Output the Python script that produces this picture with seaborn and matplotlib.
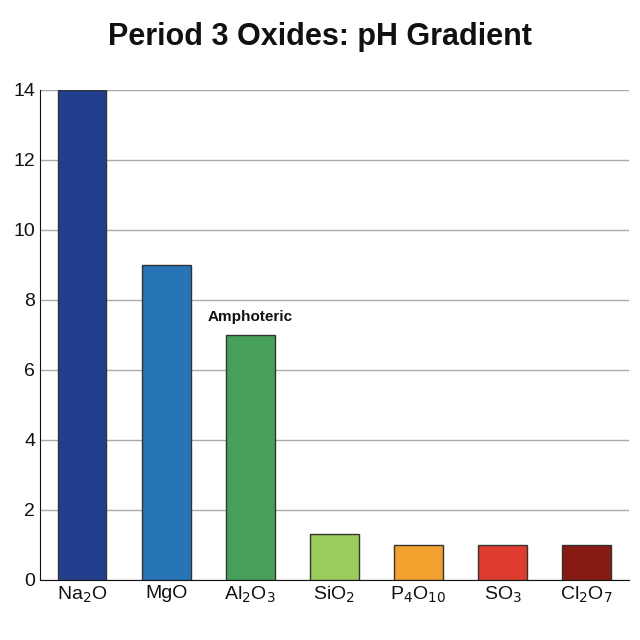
import matplotlib
matplotlib.use("Agg")
import matplotlib.pyplot as plt
import seaborn as sns
import pandas as pd

oxides = ["Na$_2$O", "MgO", "Al$_2$O$_3$", "SiO$_2$", "P$_4$O$_{10}$", "SO$_3$", "Cl$_2$O$_7$"]
ph = [14, 9, 7, 1.3, 1, 1, 1]
colors = ["#213f8c", "#2775b6", "#47a05a", "#9bcb5b", "#f2a02e", "#de3c2e", "#871a12"]

sns.set_style("white")
plt.rcParams['font.family'] = ['Liberation Sans', 'DejaVu Sans']

fig = plt.figure(figsize=(6.4, 6.4), dpi=100)
ax = fig.add_axes([0.0625, 0.094, 0.92, 0.766])
df = pd.DataFrame({"oxide": oxides, "ph": ph})
sns.barplot(data=df, x="oxide", y="ph", hue="oxide", palette=colors, legend=False,
            width=0.58, saturation=1, edgecolor="#333333", linewidth=1, ax=ax, zorder=3)
ax.set_ylim(0, 14)
ax.set_xlim(-0.5, 6.5)
ax.set_yticks(range(0, 15, 2))
ax.yaxis.grid(True, color="#aaaaaa", linewidth=1, zorder=0)
ax.set_axisbelow(True)
for s in ["top", "right"]:
    ax.spines[s].set_visible(False)
ax.spines["left"].set_color("#111111")
ax.spines["bottom"].set_color("#111111")
ax.set_xlabel("")
ax.set_ylabel("")
ax.tick_params(axis="both", labelsize=14, length=0, colors="#111111")
ax.text(2, 7.3, "Amphoteric", ha="center", va="bottom", fontsize=11, fontweight="bold", color="#111111")
fig.suptitle("Period 3 Oxides: pH Gradient", fontsize=22, fontweight="bold", y=0.965, color="#111111")
fig.savefig("out.png", dpi=100)
